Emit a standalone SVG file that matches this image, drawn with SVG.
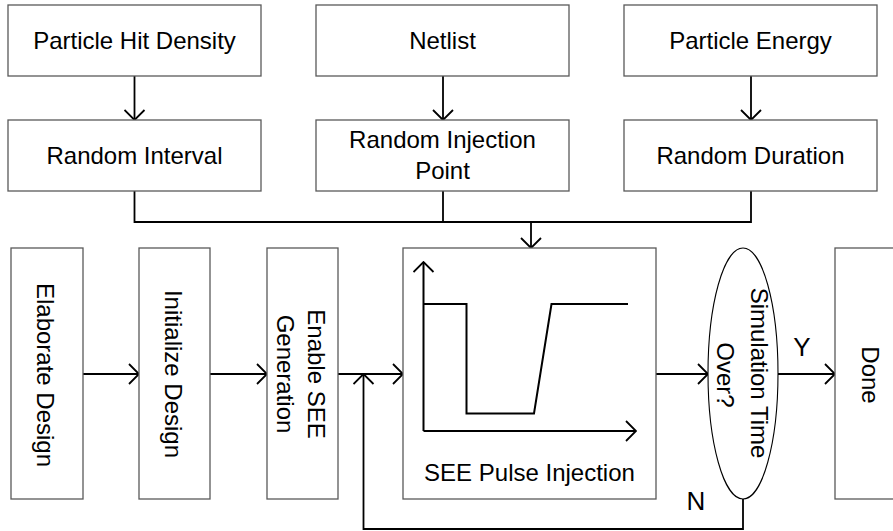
<svg xmlns="http://www.w3.org/2000/svg" width="893" height="531" viewBox="0 0 893 531">
<defs>
<style>
.box{fill:#fff;stroke:#595959;stroke-width:1.3}
.t{font-family:"Liberation Sans",Arial,sans-serif;font-size:24px;fill:#000;text-anchor:middle}
.lbl{font-family:"Liberation Sans",Arial,sans-serif;font-size:26px;fill:#000;text-anchor:middle}
.c{fill:none;stroke:#000;stroke-width:1.8}
.g{fill:none;stroke:#000;stroke-width:2}
</style>
<marker id="ah" markerUnits="userSpaceOnUse" viewBox="0 0 12 22" refX="11" refY="11" markerWidth="12" markerHeight="22" orient="auto">
<path d="M1,1 L11,11 L1,21" fill="none" stroke="#000" stroke-width="1.8"/>
</marker>
</defs>
<rect width="893" height="531" fill="#fff"/>

<g id="connectors">
<line class="c" x1="134.5" y1="76" x2="134.5" y2="120" marker-end="url(#ah)"/>
<line class="c" x1="443" y1="76" x2="443" y2="120" marker-end="url(#ah)"/>
<line class="c" x1="751" y1="76" x2="751" y2="120" marker-end="url(#ah)"/>
<polyline class="c" points="134.5,191 134.5,222 751,222 751,191"/>
<line class="c" x1="443" y1="191" x2="443" y2="222"/>
<line class="c" x1="443" y1="222" x2="531" y2="222" stroke-width="2.6"/>
<line class="c" x1="531" y1="222" x2="531" y2="248" marker-end="url(#ah)"/>
<line class="c" x1="83" y1="374" x2="139" y2="374" marker-end="url(#ah)"/>
<line class="c" x1="210" y1="374" x2="267" y2="374" marker-end="url(#ah)"/>
<line class="c" x1="338" y1="374" x2="403" y2="374" marker-end="url(#ah)"/>
<line class="c" x1="656" y1="374" x2="708" y2="374" marker-end="url(#ah)"/>
<line class="c" x1="778" y1="374" x2="835" y2="374" marker-end="url(#ah)"/>
<polyline class="c" points="743,499 743,529 363.5,529 363.5,374" marker-end="url(#ah)"/>
<text class="lbl" x="802" y="356">Y</text>
<text class="lbl" x="696" y="510">N</text>
</g>

<g id="particle-hit-density">
<rect class="box" x="8" y="5" width="253" height="71"/>
<text class="t" x="134.5" y="49">Particle Hit Density</text>
</g>
<g id="netlist">
<rect class="box" x="316" y="5" width="253" height="71"/>
<text class="t" x="442.5" y="49">Netlist</text>
</g>
<g id="particle-energy">
<rect class="box" x="624" y="5" width="253" height="71"/>
<text class="t" x="750.5" y="49">Particle Energy</text>
</g>
<g id="random-interval">
<rect class="box" x="8" y="120" width="253" height="71"/>
<text class="t" x="134.5" y="163.5">Random Interval</text>
</g>
<g id="random-injection-point">
<rect class="box" x="316" y="120" width="253" height="71"/>
<text class="t" x="442.5" y="148">Random Injection</text>
<text class="t" x="442.5" y="178.5">Point</text>
</g>
<g id="random-duration">
<rect class="box" x="624" y="120" width="253" height="71"/>
<text class="t" x="750.5" y="163.5">Random Duration</text>
</g>

<g id="elaborate-design">
<rect class="box" x="11" y="248" width="72" height="251"/>
<text class="t" transform="translate(45,375) rotate(90)" x="0" y="8.5">Elaborate Design</text>
</g>
<g id="initialize-design">
<rect class="box" x="139" y="248" width="71" height="251"/>
<text class="t" transform="translate(173,374) rotate(90)" x="0" y="8.5">Initialize Design</text>
</g>
<g id="enable-see-generation">
<rect class="box" x="267" y="248" width="71" height="251"/>
<text class="t" transform="translate(316.5,374) rotate(90)" x="0" y="8.5">Enable SEE</text>
<text class="t" transform="translate(285,374) rotate(90)" x="0" y="8.5">Generation</text>
</g>
<g id="see-pulse-injection">
<rect class="box" x="403" y="248" width="253" height="251"/>
<line class="g" x1="423.5" y1="431" x2="423.5" y2="262" marker-end="url(#ah)"/>
<line class="g" x1="423.5" y1="431" x2="636" y2="431" marker-end="url(#ah)"/>
<polyline class="g" points="423.5,304 466.5,304 466.5,413.5 534,413.5 551.5,304 628,304"/>
<text class="t" x="529.5" y="481">SEE Pulse Injection</text>
</g>
<g id="simulation-time-over">
<ellipse cx="743" cy="373.5" rx="35" ry="125.5" fill="#fff" stroke="#000" stroke-width="1.1"/>
<text class="t" transform="translate(759,373) rotate(90)" x="0" y="8.5">Simulation Time</text>
<text class="t" transform="translate(725.5,375) rotate(90)" x="0" y="8.5">Over?</text>
</g>
<g id="done">
<rect class="box" x="835" y="248" width="80" height="251"/>
<text class="t" transform="translate(870,375) rotate(90)" x="0" y="8.5">Done</text>
</g>
</svg>
